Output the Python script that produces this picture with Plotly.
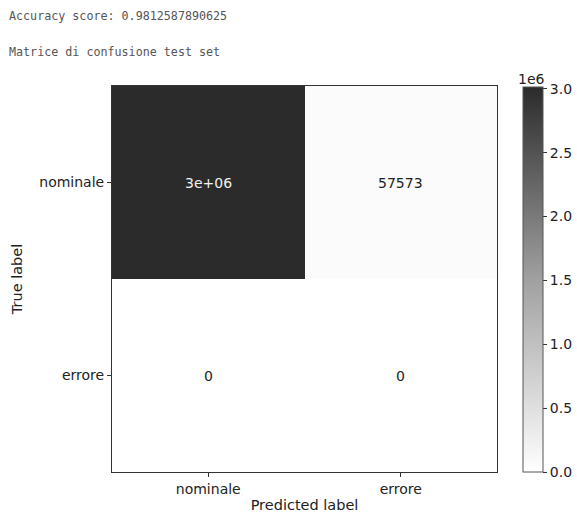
import plotly.graph_objects as go

labels = ["nominale", "errore"]
cm = [[3014427, 57573], [0, 0]]
accuracy_text = "Accuracy score: 0.9812587890625"
subtitle_text = "Matrice di confusione test set"
cbar_ticks = [0, 0.5e6, 1.0e6, 1.5e6, 2.0e6, 2.5e6, 3.0e6]
cbar_ticktext = ["0.0", "0.5", "1.0", "1.5", "2.0", "2.5", "3.0"]

W, H = 577, 513
L, R, T, B = 112, 497, 86, 472
FS = 14


def fmt(v):
    g = format(v, ".2g")
    d = format(v, "d")
    return d if len(d) < len(g) else g


def px_x(x):
    return (x - L) / (R - L)


def px_y(y):
    return (B - y) / (B - T)


zmax = max(max(r) for r in cm)
zmin = min(min(r) for r in cm)

fig = go.Figure(go.Heatmap(
    z=cm, x=labels, y=labels,
    colorscale=[[0, "#ffffff"], [0.5, "#a0a0a0"], [1, "#2b2b2b"]],
    zmin=zmin, zmax=zmax,
    showscale=True,
    colorbar=dict(
        x=px_x(523), xanchor="left", xref="paper", xpad=0, ypad=0,
        y=px_y(472), yanchor="bottom", len=(472 - 87) / (B - T),
        lenmode="fraction",
        thickness=20, outlinecolor="#555", outlinewidth=1,
        tickvals=cbar_ticks, ticktext=cbar_ticktext,
        ticks="outside", ticklen=4, tickcolor="#333",
        tickfont=dict(family="DejaVu Sans", size=FS, color="#222"),
    ),
    hoverinfo="skip",
))

thresh = (zmax + zmin) / 2
for i, row in enumerate(cm):
    for j, v in enumerate(row):
        fig.add_annotation(
            x=labels[j], y=labels[i], text=fmt(v), showarrow=False,
            font=dict(family="DejaVu Sans", size=FS,
                      color="#f2f2f2" if v > thresh else "#222"),
        )

fig.add_annotation(x=px_x(7), y=px_y(16), xref="paper", yref="paper",
                   text=accuracy_text, showarrow=False, xanchor="left",
                   yanchor="middle",
                   font=dict(family="DejaVu Sans Mono", size=11.7, color="#555"))
fig.add_annotation(x=px_x(7), y=px_y(52), xref="paper", yref="paper",
                   text=subtitle_text, showarrow=False, xanchor="left",
                   yanchor="middle",
                   font=dict(family="DejaVu Sans Mono", size=11.7, color="#555"))
fig.add_annotation(x=px_x(531), y=px_y(79), xref="paper", yref="paper",
                   text="1e6", showarrow=False, xanchor="center",
                   yanchor="middle",
                   font=dict(family="DejaVu Sans", size=FS, color="#222"))

axis_common = dict(
    showline=True, linecolor="#333", linewidth=1, mirror=True,
    ticks="outside", ticklen=4, tickcolor="#333",
    tickfont=dict(family="DejaVu Sans", size=FS, color="#222"),
    showgrid=False, zeroline=False,
)
fig.update_xaxes(title=dict(text="Predicted label", standoff=5,
                            font=dict(family="DejaVu Sans", size=14.5, color="#222")),
                 **axis_common)
fig.update_yaxes(title=dict(text="True label", standoff=13,
                            font=dict(family="DejaVu Sans", size=14.5, color="#222")),
                 autorange="reversed", **axis_common)

fig.update_layout(
    width=W, height=H,
    margin=dict(l=L, r=W - R, t=T, b=H - B, autoexpand=False),
    paper_bgcolor="white", plot_bgcolor="white",
    font=dict(family="DejaVu Sans", color="#222"),
)

fig.write_html("out.html",
               config={"displayModeBar": False},
               post_script="document.body.style.margin='0';"
                           "document.body.style.overflow='hidden';")
